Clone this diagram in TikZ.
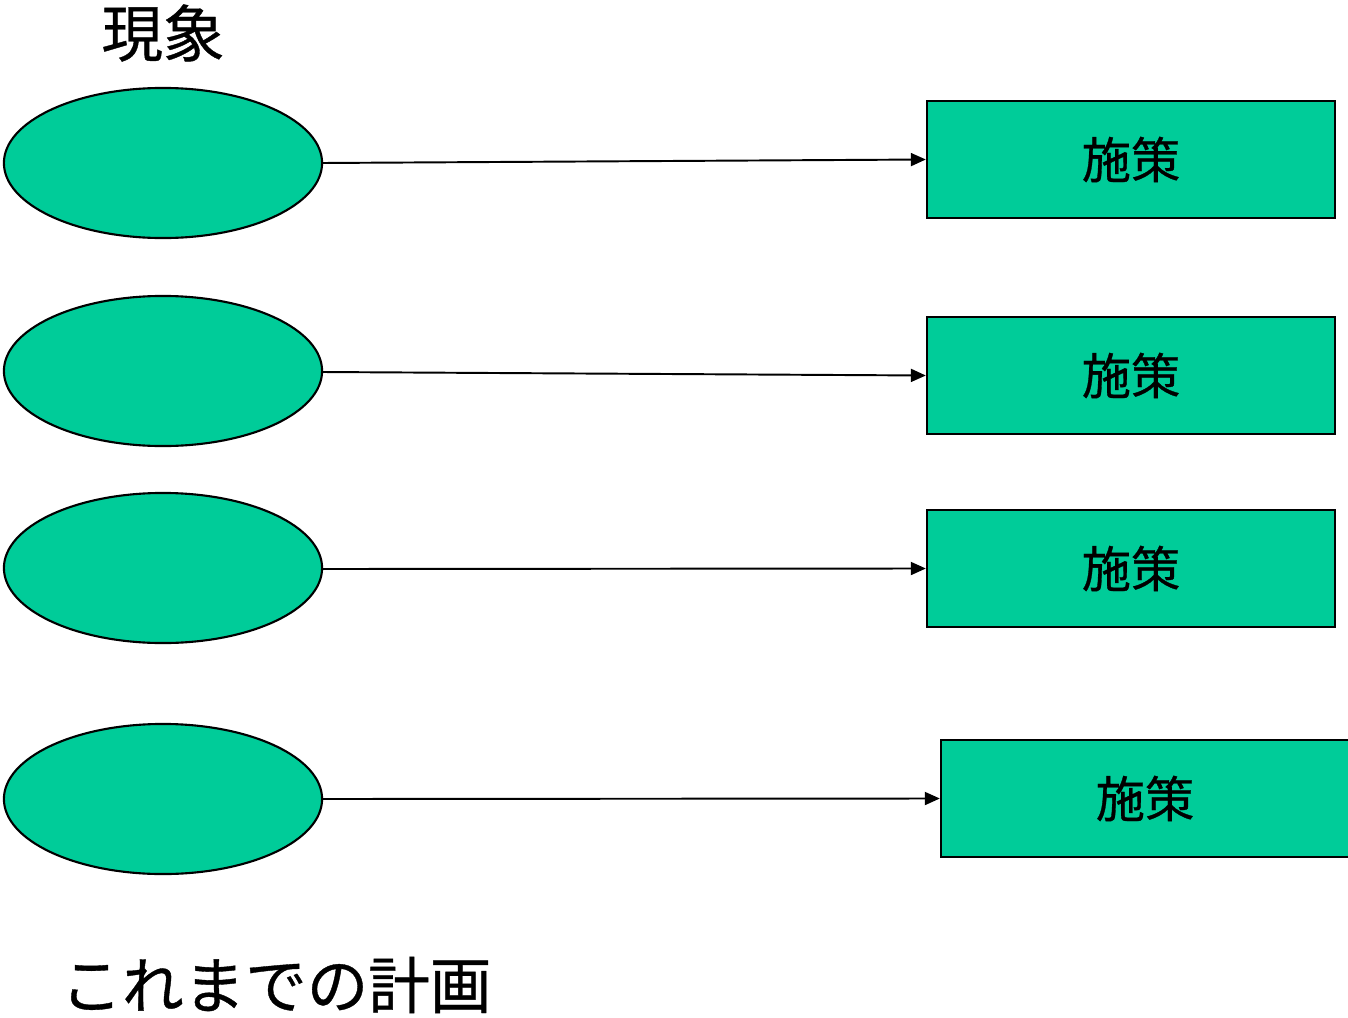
\documentclass[tikz,border=0pt]{standalone}
\usepackage{fontspec}
\newfontfamily\cjk[FakeBold=0.6]{Noto Sans CJK JP}
\usetikzlibrary{shapes.geometric,arrows.meta}
\definecolor{fillgreen}{HTML}{00CC99}
\tikzset{
  phen/.style={ellipse, draw=black, fill=fillgreen, line width=0.6pt, minimum width=3.18cm, minimum height=1.50cm, inner sep=0pt},
  measure/.style={rectangle, draw=black, fill=fillgreen, line width=0.6pt, minimum width=4.08cm, minimum height=1.17cm, inner sep=0pt, font=\cjk\fontsize{14}{16}\selectfont},
  conn/.style={line width=0.55pt, -{Triangle[length=0.15cm,width=0.13cm]}},
  bigtext/.style={font=\cjk\fontsize{17.5}{20}\selectfont, inner sep=0pt}
}
\begin{document}
\begin{tikzpicture}[x=0.01cm,y=-0.01cm]
\useasboundingbox (0,0) rectangle (1348,1018);
\node[bigtext] (t1) at (163,33) {現象};
\node[bigtext] (t2) at (276,985) {これまでの計画};
\node[phen] (e1) at (163,163) {};
\node[phen] (e2) at (163,371) {};
\node[phen] (e3) at (163,568) {};
\node[phen] (e4) at (163,799) {};
\node[measure] (r1) at (1131,159.5) {施策};
\node[measure] (r2) at (1131,375.5) {施策};
\node[measure] (r3) at (1131,568.5) {施策};
\node[measure] (r4) at (1145,798.5) {施策};
\coordinate (a1) at (322,163);
\coordinate (a2) at (322,372);
\coordinate (a3) at (322,569);
\coordinate (a4) at (322,799);
\draw[conn] (a1) -- (r1.west);
\draw[conn] (a2) -- (r2.west);
\draw[conn] (a3) -- (r3.west);
\draw[conn] (a4) -- (r4.west);
\end{tikzpicture}
\end{document}
